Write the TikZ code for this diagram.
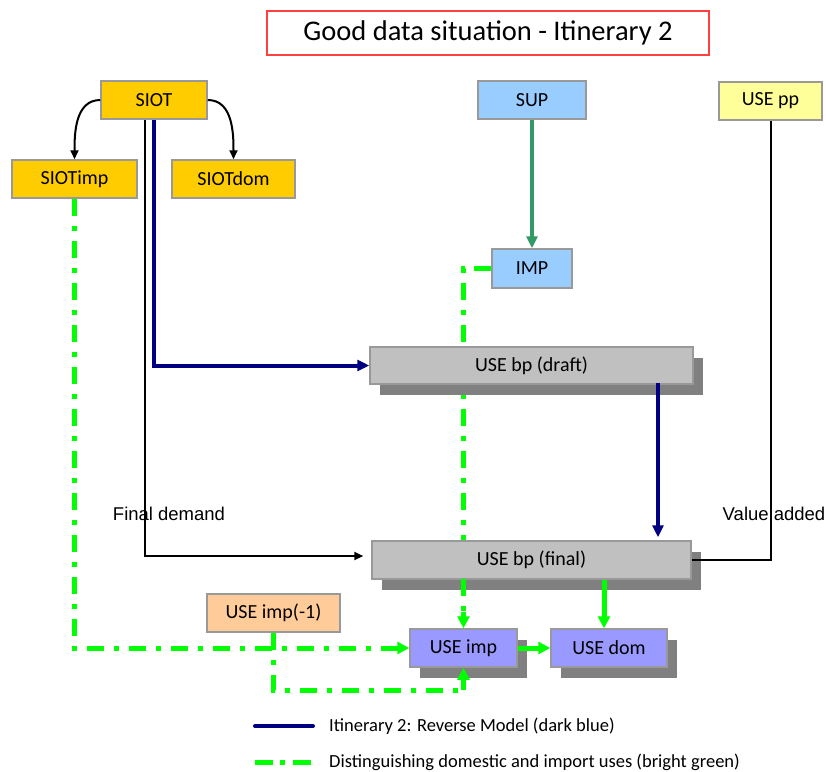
\documentclass[tikz,border=0pt]{standalone}
\usepackage{fontspec}
\setmainfont{Carlito}
\newfontfamily\arialf{Liberation Sans}
\usetikzlibrary{arrows.meta,shadows}

\definecolor{siotorange}{HTML}{FFCC00}
\definecolor{suppblue}{HTML}{99CCFF}
\definecolor{ppyellow}{HTML}{FFFF99}
\definecolor{peach}{HTML}{FFCC99}
\definecolor{lilac}{HTML}{9999FF}
\definecolor{boxgrey}{HTML}{C0C0C0}
\definecolor{shadowgrey}{HTML}{808080}
\definecolor{boxborder}{HTML}{999999}
\definecolor{navy}{HTML}{000080}
\definecolor{brightgreen}{HTML}{00FF00}
\definecolor{seagreen}{HTML}{339966}
\definecolor{titlered}{HTML}{FF4040}

\tikzset{
  box/.style={draw=boxborder, line width=1.5pt, minimum height=38pt,
    inner sep=0pt, font=\fontsize{20}{24}\selectfont},
  shadowed/.style={drop shadow={shadow xshift=10pt, shadow yshift=-11pt,
    fill=shadowgrey, opacity=1, draw=none}},
  plainarrow/.style={draw=black, line width=2pt,
    -{Triangle[length=9pt,width=8pt]}},
  plainline/.style={draw=black, line width=2pt},
  bluearrow/.style={draw=navy, line width=4pt,
    -{Triangle[length=12pt,width=11pt]}},
  seaarrow/.style={draw=seagreen, line width=4pt,
    -{Triangle[length=12pt,width=11pt]}},
  greendash/.style={draw=brightgreen, line width=5pt,
    dash pattern=on 17pt off 10pt on 5pt off 10pt},
  greentip/.style={-{Triangle[length=12pt,width=12pt]}},
  greensolid/.style={draw=brightgreen, line width=5pt,
    -{Triangle[length=12pt,width=12pt]}},
  sidelabel/.style={font=\arialf\fontsize{18.5}{20}\selectfont, inner sep=0pt},
  legendtext/.style={font=\fontsize{18.5}{22}\selectfont, anchor=west, inner sep=0pt},
}

\begin{document}
\begin{tikzpicture}[x=1pt, y=-1pt]
\useasboundingbox (0,0) rectangle (826,771);

% title
\node[draw=titlered, line width=1.5pt, minimum width=442pt, minimum height=44pt,
      inner sep=0pt, font=\fontsize{28.5}{32}\selectfont] (title) at (488,33)
      {Good data situation - Itinerary 2};

% coordinates for free connector ends and legend samples
\coordinate (gx) at (604,600);
\coordinate (leg1a) at (255,726);
\coordinate (leg1b) at (313,726);
\coordinate (leg2a) at (255,762);
\coordinate (leg2b) at (313,762);

% upper boxes
\path (154,100) node[box, fill=siotorange, minimum width=106pt] (siot) {SIOT};
\path (74.5,179) node[box, fill=siotorange, minimum width=125pt] (siotimp) {SIOTimp};
\path (233.5,179) node[box, fill=siotorange, minimum width=123pt] (siotdom) {SIOTdom};
\path (532,100) node[box, fill=suppblue, minimum width=108pt] (sup) {SUP};
\path (770.5,101) node[box, fill=ppyellow, minimum width=103pt] (usepp) {USE pp};
\path (532,268.5) node[box, fill=suppblue, minimum width=80pt, minimum height=39pt] (imp) {IMP};

% green path from IMP runs behind the grey boxes
\draw[greendash] (imp.west) -| (463.5,560);
\draw[greendash] (463.5,560) -- (463.5,600);

% lower boxes
\path (531.5,365.5) node[box, shadowed, fill=boxgrey, minimum width=323pt, minimum height=37pt] (draft) {USE bp (draft)};
\path (531.5,560) node[box, shadowed, fill=boxgrey, minimum width=319pt] (final) {USE bp (final)};
\path (273.5,613) node[box, fill=peach, minimum width=133pt] (useimpm) {USE imp(-1)};
\path (463.5,648) node[box, shadowed, fill=lilac, minimum width=107pt] (useimp) {USE imp};
\path (609,648) node[box, shadowed, fill=lilac, minimum width=116pt] (usedom) {USE dom};

% SIOT split
\draw[plainarrow] (siot.west) to[out=180, in=90] (siotimp.north);
\draw[plainarrow] (siot.east) to[out=0, in=90] (siotdom.north);

% final demand and value added
\draw[plainarrow, shorten >=8pt] ([xshift=-9pt]siot.south) |- ([yshift=4pt]final.west);
\draw[plainline] (final.east) -| (usepp.south);
\node[sidelabel] (fdlabel) at (169,514) {Final demand};
\node[sidelabel] (valabel) at (774,514) {Value added};

% itinerary 2 (dark blue)
\draw[bluearrow] (siot.south) |- (draft.west);
\draw[bluearrow, shorten >=3pt] ([xshift=126.5pt,yshift=2pt]draft.south) -- ([xshift=126.5pt]final.north);

% supply to imports
\draw[seaarrow] (sup.south) -- (imp.north);

% domestic / import split (bright green)
\draw[greendash] (463.5,579) -- (463.5,612);
\draw[draw=brightgreen, line width=5pt, greentip] (463.5,612) -- (useimp.north);
\draw[greendash] (siotimp.south) |- (395,648);
\draw[draw=brightgreen, line width=5pt, greentip] (395,648) -- (useimp.west);
\draw[greendash] (useimpm.south) |- (463.5,690);
\draw[draw=brightgreen, line width=5pt, greentip] (463.5,690) -- (useimp.south);
\draw[greensolid] (useimp.east) -- (usedom.west);
\draw[greensolid] (final.south -| gx) -- (usedom.north -| gx);

% legend
\draw[draw=navy, line width=4pt, line cap=round] (leg1a) -- (leg1b);
\node[legendtext] (leg1) at (329,726) {Itinerary 2: Reverse Model (dark blue)};
\draw[draw=brightgreen, line width=5pt, dash pattern=on 18pt off 7pt on 5pt off 8pt] (leg2a) -- (leg2b);
\node[legendtext] (leg2) at (329,762) {Distinguishing domestic and import uses (bright green)};
\end{tikzpicture}
\end{document}
